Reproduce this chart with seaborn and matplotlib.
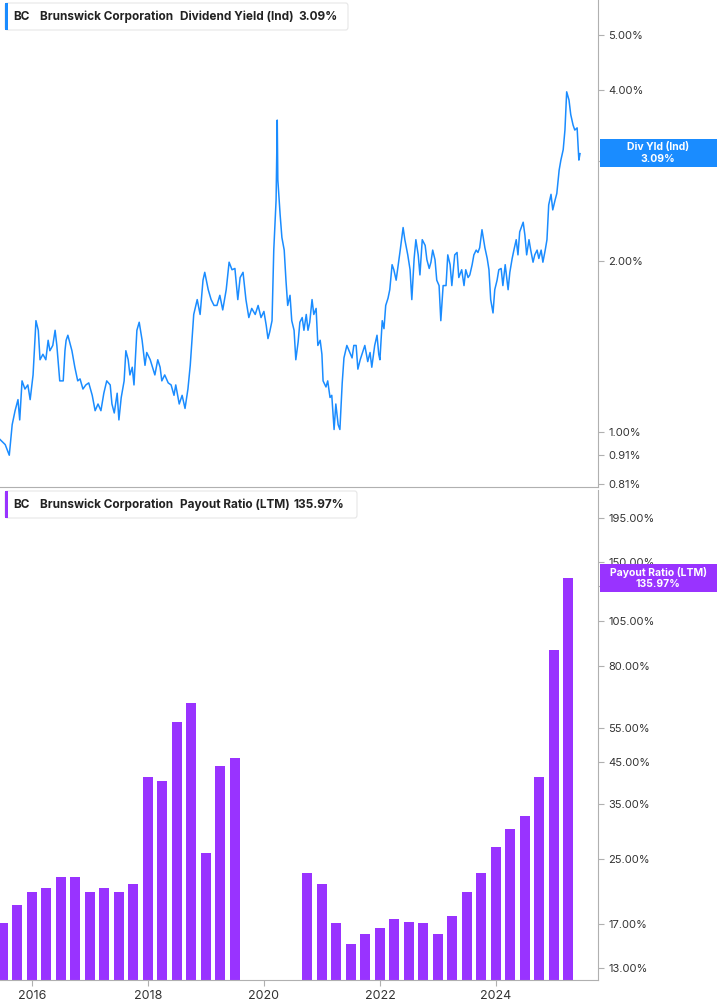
import numpy as np
import pandas as pd
import matplotlib
matplotlib.use("Agg")
import matplotlib.pyplot as plt
import seaborn as sns
from matplotlib.patches import Rectangle, FancyBboxPatch

plt.rcParams["font.family"] = "Inter"

yield_years = [2015.45,2015.54,2015.61,2015.66,2015.71,2015.76,2015.79,2015.83,2015.88,2015.93,2015.97,2016.02,2016.07,2016.11,2016.14,2016.19,2016.24,2016.28,2016.31,2016.36,2016.40,2016.43,2016.48,2016.54,2016.57,2016.59,2016.62,2016.69,2016.74,2016.79,2016.83,2016.88,2016.93,2016.98,2017.04,2017.09,2017.14,2017.19,2017.24,2017.29,2017.35,2017.38,2017.42,2017.47,2017.50,2017.54,2017.59,2017.62,2017.66,2017.69,2017.73,2017.76,2017.81,2017.85,2017.90,2017.95,2017.98,2018.04,2018.07,2018.12,2018.17,2018.21,2018.24,2018.29,2018.35,2018.40,2018.45,2018.48,2018.54,2018.59,2018.64,2018.69,2018.73,2018.76,2018.79,2018.85,2018.90,2018.95,2018.98,2019.04,2019.09,2019.14,2019.19,2019.24,2019.29,2019.35,2019.40,2019.45,2019.50,2019.55,2019.59,2019.64,2019.69,2019.74,2019.79,2019.85,2019.90,2019.95,2020.00,2020.04,2020.07,2020.10,2020.14,2020.17,2020.21,2020.23,2020.24,2020.28,2020.31,2020.35,2020.38,2020.41,2020.45,2020.48,2020.52,2020.55,2020.59,2020.62,2020.66,2020.69,2020.73,2020.76,2020.79,2020.83,2020.86,2020.90,2020.93,2020.97,2021.00,2021.02,2021.07,2021.10,2021.14,2021.17,2021.21,2021.24,2021.28,2021.31,2021.35,2021.38,2021.43,2021.48,2021.52,2021.55,2021.59,2021.62,2021.66,2021.69,2021.74,2021.79,2021.83,2021.86,2021.91,2021.95,2021.98,2022.00,2022.04,2022.07,2022.10,2022.14,2022.17,2022.21,2022.24,2022.28,2022.35,2022.40,2022.43,2022.48,2022.52,2022.55,2022.59,2022.62,2022.66,2022.69,2022.73,2022.78,2022.81,2022.85,2022.88,2022.91,2022.95,2022.98,2023.02,2023.05,2023.09,2023.14,2023.17,2023.21,2023.24,2023.29,2023.33,2023.36,2023.41,2023.45,2023.48,2023.52,2023.55,2023.59,2023.62,2023.66,2023.69,2023.72,2023.76,2023.81,2023.85,2023.88,2023.91,2023.95,2023.98,2024.02,2024.05,2024.09,2024.12,2024.16,2024.21,2024.24,2024.28,2024.31,2024.35,2024.38,2024.41,2024.47,2024.50,2024.53,2024.57,2024.60,2024.64,2024.67,2024.71,2024.74,2024.78,2024.81,2024.85,2024.88,2024.91,2024.95,2024.98,2025.02,2025.05,2025.09,2025.12,2025.16,2025.19,2025.22,2025.26,2025.29,2025.33,2025.36,2025.40,2025.43,2025.45]
yield_pct = [0.97,0.95,0.91,1.03,1.09,1.14,1.05,1.23,1.19,1.21,1.14,1.26,1.57,1.51,1.34,1.37,1.34,1.45,1.39,1.42,1.51,1.42,1.23,1.23,1.39,1.45,1.48,1.39,1.30,1.23,1.24,1.19,1.21,1.22,1.16,1.09,1.12,1.09,1.17,1.23,1.21,1.12,1.08,1.17,1.05,1.15,1.23,1.39,1.34,1.26,1.30,1.21,1.51,1.56,1.45,1.31,1.38,1.34,1.31,1.26,1.34,1.30,1.23,1.26,1.22,1.21,1.16,1.21,1.12,1.16,1.10,1.19,1.31,1.45,1.61,1.71,1.61,1.85,1.91,1.78,1.71,1.67,1.67,1.74,1.64,1.78,1.99,1.93,1.94,1.71,1.87,1.91,1.71,1.59,1.65,1.61,1.67,1.59,1.63,1.54,1.46,1.50,1.57,2.09,2.56,3.54,2.78,2.41,2.20,2.09,1.85,1.67,1.74,1.57,1.51,1.34,1.44,1.56,1.59,1.51,1.61,1.51,1.56,1.71,1.61,1.65,1.42,1.45,1.37,1.23,1.20,1.23,1.15,1.16,1.01,1.12,1.03,1.01,1.22,1.35,1.42,1.38,1.35,1.42,1.42,1.29,1.34,1.37,1.42,1.33,1.38,1.30,1.42,1.48,1.37,1.34,1.57,1.52,1.67,1.72,1.78,1.97,1.93,1.85,2.09,2.29,2.18,2.05,1.93,1.71,2.02,2.18,2.05,1.89,2.18,2.13,2.01,1.94,1.99,2.09,2.01,1.85,1.81,1.57,1.81,1.81,2.05,1.97,1.81,2.05,2.07,1.87,1.93,1.81,1.93,1.87,1.89,1.97,2.05,2.09,2.07,2.11,2.27,2.11,2.02,1.93,1.71,1.62,1.78,1.85,1.93,1.94,1.81,1.97,1.78,1.91,2.02,2.09,2.18,2.05,2.25,2.34,2.22,2.05,2.18,2.09,1.99,2.05,2.09,2.02,2.09,1.99,2.09,2.18,2.51,2.62,2.46,2.56,2.63,2.89,3.01,3.14,3.40,3.97,3.84,3.62,3.47,3.40,3.43,3.01,3.09]

payout_years = [2015.50,2015.75,2016.00,2016.25,2016.50,2016.75,2017.00,2017.25,2017.50,2017.75,2018.00,2018.25,2018.50,2018.75,2019.00,2019.25,2019.50,
                2020.75,2021.00,2021.25,2021.50,2021.75,2022.00,2022.25,2022.50,2022.75,2023.00,2023.25,2023.50,2023.75,2024.00,2024.25,2024.50,2024.75,2025.00,2025.25]
payout_pct = [17.0,19.0,20.5,21.0,22.5,22.5,20.5,21.0,20.5,21.5,41.0,40.0,57.0,64.0,26.0,44.0,46.0,
              23.0,21.5,17.0,15.0,16.0,16.5,17.5,17.2,17.0,16.0,17.8,20.5,23.0,27.0,30.0,32.5,41.0,88.0,135.97]

top_ticks = [5.0,4.0,3.0,2.0,1.0,0.91,0.81]
bot_ticks = [195,150,130,105,80,55,45,35,25,17,13]
year_ticks = [2016,2018,2020,2022,2024]

BLUE = "#1a8cff"
PURPLE = "#9933ff"
GRID = "#b0b0b0"

fig = plt.figure(figsize=(7.17,10.05), dpi=100)
W = 598/717
ax1 = fig.add_axes([0, 1-487/1005, W, 487/1005])
ax2 = fig.add_axes([0, 1-980/1005, W, 490/1005])

df = pd.DataFrame({"year": yield_years, "yld": yield_pct})
sns.lineplot(data=df, x="year", y="yld", ax=ax1, color=BLUE, lw=1.1)
ax2.bar(payout_years, payout_pct, width=0.17, color=PURPLE, bottom=0.001)

for ax in (ax1, ax2):
    ax.set_yscale("log")
    ax.set_xlim(2015.45, 2025.76)
    ax.yaxis.tick_right()
    ax.minorticks_off()
    for s in ("top","left"):
        ax.spines[s].set_visible(False)
    ax.spines["right"].set_color(GRID)
    ax.spines["bottom"].set_color(GRID)
    ax.tick_params(axis="y", colors=GRID, labelcolor="#333333", labelsize=8, length=4)
    ax.set_xlabel(""); ax.set_ylabel("")

ax1.set_ylim(0.8, 5.76)
ax1.set_yticks(top_ticks)
ax1.set_yticklabels([f"{t:.2f}%" for t in top_ticks])
ax1.set_xticks([])
ax2.set_ylim(12.1, 231)
ax2.set_yticks(bot_ticks)
ax2.set_yticklabels([f"{t:.2f}%" for t in bot_ticks])
ax2.set_xticks(year_ticks)
ax2.set_xticklabels([str(y) for y in year_ticks])
ax2.tick_params(axis="x", colors=GRID, labelcolor="#333333", labelsize=9, length=4)

def title_box(ypix, color, text_parts, width_px):
    y0 = 1 - (ypix+27)/1005
    fig.patches.append(FancyBboxPatch((5/717, y0), width_px/717, 27/1005, boxstyle="round,pad=0,rounding_size=0.003",
                                      transform=fig.transFigure, facecolor="white", edgecolor="#e6e6e6", lw=0.8, zorder=5))
    fig.patches.append(Rectangle((5/717, y0), 3/717, 27/1005, transform=fig.transFigure, facecolor=color, zorder=6))
    yc = 1 - (ypix+13.5)/1005
    for xpx, t in text_parts:
        fig.text(xpx/717, yc, t, fontsize=8.5, fontweight="bold", color="#222222", va="center", ha="left", zorder=7)

title_box(3, BLUE, [(13,"BC"),(40,"Brunswick Corporation"),(180,"Dividend Yield (Ind)"),(298,"3.09%")], 343)
title_box(491, PURPLE, [(13,"BC"),(40,"Brunswick Corporation"),(180,"Payout Ratio (LTM)"),(294,"135.97%")], 352)

def value_box(ycpix, color, line1, line2):
    fig.patches.append(Rectangle((600/717, 1-(ycpix+14)/1005), 117/717, 28/1005, transform=fig.transFigure,
                                 facecolor=color, zorder=5))
    fig.text(658/717, 1-(ycpix-6)/1005, line1, fontsize=7.5, fontweight="bold", color="white", ha="center", va="center", zorder=6)
    fig.text(658/717, 1-(ycpix+6)/1005, line2, fontsize=7.5, fontweight="bold", color="white", ha="center", va="center", zorder=6)

value_box(153, BLUE, "Div Yld (Ind)", f"{yield_pct[-1]:.2f}%")
value_box(578, PURPLE, "Payout Ratio (LTM)", f"{payout_pct[-1]:.2f}%")

fig.savefig("out.png", dpi=100)
